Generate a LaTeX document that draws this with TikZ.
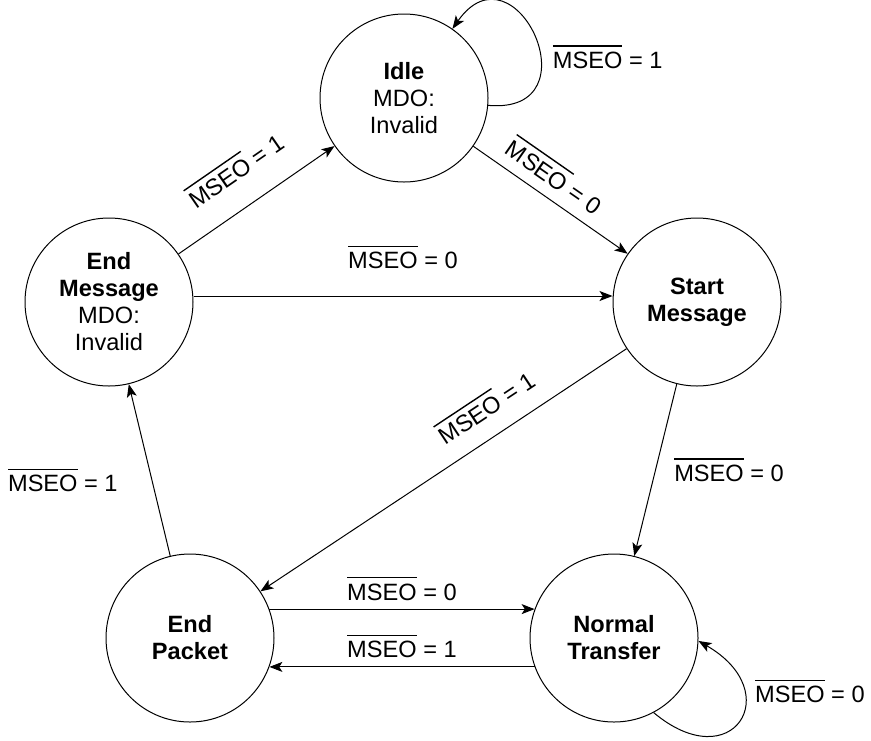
\documentclass[tikz,border=0pt]{standalone}
\usepackage{fontspec}
\setmainfont{Liberation Sans}
\usetikzlibrary{arrows.meta,automata}

\newcommand{\barred}[1]{\vbox{\hrule height 0.7pt\kern 2.6pt\hbox{#1}}}
\newcommand{\mseo}[1]{\barred{MSEO} = #1}

\begin{document}
\begin{tikzpicture}[->,>={Stealth[length=6.5pt,width=5pt,inset=1.6pt]},x=0.5pt,y=-0.5pt,
    node distance=294pt, line width=0.5pt, font=\fontsize{11.8}{13.5}\selectfont]
    \tikzstyle{every state}=[draw=black,text=black,minimum size=84pt,inner sep=0pt,align=center]
    \useasboundingbox (0,0) rectangle (871,740);
    \node[state] (EM) at (109,302) {\textbf{End}\\\textbf{Message}\\MDO:\\Invalid};
    \node[state, right of=EM] (SM) {\textbf{Start}\\\textbf{Message}};
    \node[state] (Idle) at (404,98) {\textbf{Idle}\\MDO:\\Invalid};
    \node[state] (EP) at (190,638) {\textbf{End}\\\textbf{Packet}};
    \node[state, right of=EP, node distance=212pt] (NT) {\textbf{Normal}\\\textbf{Transfer}};

    \path
    (EM) edge node[sloped, above=9.6pt] {\mseo{1}} (Idle)
    (Idle) edge [out=-5, in=55, looseness=3.3] node[pos=0.4, right=2.6pt] {\mseo{1}} (Idle)
    (Idle) edge node[pos=0.445, sloped, above=2.3pt] {\mseo{0}} (SM)
    ([yshift=3pt]EM.east) edge node[above=10pt] {\mseo{0}} ([yshift=3pt]SM.west)
    (SM) edge node[pos=0.34, sloped, above=5.8pt] {\mseo{1}} (EP)
    (SM) edge node[right=5.8pt] {\mseo{0}} (NT)
    (EP.20) edge node[above=0.8pt] {\mseo{0}} (NT.160)
    (NT.200) edge node[above=0.8pt] {\mseo{1}} (EP.-20)
    (NT.-62) edge [out=-40, in=-30, looseness=3.1] node[pos=0.7, right=2.6pt] {\mseo{0}} (NT.-2)
    (EP) edge node[pos=0.44, left=13.6pt] {\mseo{1}} (EM);
\end{tikzpicture}
\end{document}
